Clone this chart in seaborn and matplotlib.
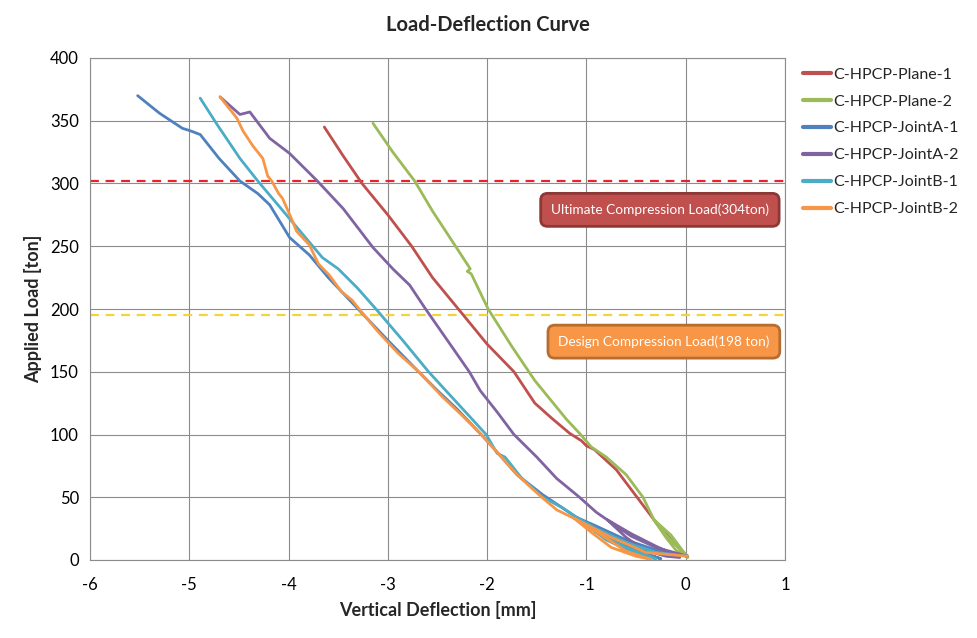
import matplotlib
matplotlib.use("Agg")
import matplotlib.pyplot as plt
import seaborn as sns
import pandas as pd

sns.set_theme(style="white")
plt.rcParams['font.family'] = ['Lato', 'DejaVu Sans']
plt.rcParams['axes.unicode_minus'] = False

# ---------------- data ----------------
series_names = ["C-HPCP-Plane-1", "C-HPCP-Plane-2", "C-HPCP-JointA-1",
                "C-HPCP-JointA-2", "C-HPCP-JointB-1", "C-HPCP-JointB-2"]

plane1_x = [0.02, -0.1, -0.3, -0.49, -0.7, -0.92, -1.0, -1.05, -1.17, -1.35, -1.52,
            -1.73, -2.0, -2.29, -2.55, -2.76, -3.0, -3.26, -3.45, -3.64]
plane1_y = [3, 12, 30, 50, 72, 88, 91, 95, 101, 113, 125,
            150, 172, 200, 225, 250, 275, 300, 322, 345]

plane2_x = [0.02, -0.1, -0.2, -0.32, -0.2, -0.1, 0.02, -0.15, -0.32, -0.43, -0.6,
            -0.8, -0.95, -1.07, -1.2, -1.52, -1.75, -1.99, -2.16, -2.2, -2.17,
            -2.31, -2.55, -2.73, -2.95, -3.15]
plane2_y = [3, 12, 20, 32, 18, 8, 2, 20, 32, 50, 68,
            82, 90, 101, 112, 143, 170, 200, 228, 230, 232,
            249, 278, 302, 325, 348]

jointA1_x = [0.02, -0.3, -0.6, -0.9, -1.1, -0.8, -0.5, -0.25, -0.55, -0.85, -1.1,
             -1.25, -1.44, -1.7, -1.9, -2.06, -2.3, -2.5, -2.69, -3.0, -3.3,
             -3.6, -3.79, -3.99, -4.19, -4.31, -4.49, -4.7, -4.84, -4.89, -4.99,
             -5.07, -5.3, -5.52]
jointA1_y = [3, 8, 16, 27, 34, 18, 7, 1, 9, 22, 34,
             42, 52, 68, 86, 100, 120, 135, 150, 175, 200,
             225, 243, 257, 283, 292, 302, 320, 334, 339, 342,
             344, 356, 370]

jointA2_x = [0.02, -0.3, -0.55, -0.79, -0.6, -0.42, -0.2, -0.06, -0.3, -0.55, -0.79,
             -0.9, -1.07, -1.3, -1.5, -1.73, -1.9, -2.07, -2.18, -2.4, -2.62,
             -2.78, -2.95, -3.15, -3.45, -3.71, -3.99, -4.19, -4.39, -4.49, -4.69]
jointA2_y = [3, 10, 19, 32, 18, 8, 3, 2, 11, 21, 32,
             38, 50, 65, 82, 100, 118, 135, 150, 175, 200,
             219, 232, 249, 280, 302, 324, 336, 357, 355, 369]

jointB1_x = [0.02, -0.3, -0.6, -0.9, -1.08, -0.8, -0.5, -0.3, -0.6, -0.9, -1.08,
             -1.25, -1.44, -1.65, -1.78, -1.82, -1.9, -2.01, -2.3, -2.59, -2.85,
             -3.12, -3.31, -3.5, -3.66, -3.99, -4.31, -4.49, -4.72, -4.89]
jointB1_y = [3, 6, 14, 25, 33, 16, 5, 1, 10, 22, 33,
             42, 50, 65, 78, 82, 85, 100, 125, 150, 175,
             200, 217, 232, 241, 272, 302, 320, 347, 368]

jointB2_x = [0.02, -0.4, -0.75, -1.12, -0.95, -0.75, -0.5, -0.35, -0.6, -0.85, -1.12,
             -1.3, -1.45, -1.7, -1.9, -2.06, -2.25, -2.45, -2.69, -2.9, -3.1,
             -3.3, -3.36, -3.47, -3.59, -3.7, -3.79, -3.92, -3.96, -4.06, -4.1,
             -4.17, -4.21, -4.26, -4.36, -4.46, -4.52, -4.69]
jointB2_y = [3, 6, 18, 33, 22, 10, 3, 0.5, 7, 20, 33,
             40, 50, 68, 86, 100, 115, 130, 150, 165, 182,
             201, 207, 214, 227, 236, 251, 262, 270, 288, 292,
             302, 306, 320, 330, 342, 352, 369]

series_x = [plane1_x, plane2_x, jointA1_x, jointA2_x, jointB1_x, jointB2_x]
series_y = [plane1_y, plane2_y, jointA1_y, jointA2_y, jointB1_y, jointB2_y]
series_colors = ["#C0504D", "#9BBB59", "#4F81BD", "#8064A2", "#4BACC6", "#F79646"]

ultimate_load = 302
design_load = 195
ultimate_text = "Ultimate Compression Load(304ton)"
design_text = "Design Compression Load(198 ton)"

x_ticks = [-6, -5, -4, -3, -2, -1, 0, 1]
y_ticks = [0, 50, 100, 150, 200, 250, 300, 350, 400]

# ---------------- figure ----------------
fig = plt.figure(figsize=(9.77, 6.38), dpi=100)
ax = fig.add_axes([90 / 977, 78 / 638, 695 / 977, 502 / 638])

for name, xs, ys, c in zip(series_names, series_x, series_y, series_colors):
    df = pd.DataFrame({"x": xs, "y": ys})
    sns.lineplot(data=df, x="x", y="y", sort=False, estimator=None, ax=ax,
                 color=c, linewidth=2.0, label=name, zorder=3)

ax.axhline(ultimate_load, color="#E8232A", linestyle=(0, (4, 3)), linewidth=1.6, zorder=2)
ax.axhline(design_load, color="#F5D33B", linestyle=(0, (4, 3)), linewidth=1.6, zorder=2)

ax.set_xlim(-6, 1)
ax.set_ylim(0, 400)
ax.set_xticks(x_ticks)
ax.set_yticks(y_ticks)
ax.grid(True, color="#8C8C8C", linewidth=0.8)
ax.set_axisbelow(True)
for s in ax.spines.values():
    s.set_color("#8C8C8C")
    s.set_linewidth(0.8)
ax.tick_params(axis="both", length=0, labelsize=12, colors="black", pad=8)
ax.tick_params(axis="x", pad=12)

ax.set_xlabel("Vertical Deflection [mm]", fontsize=13, fontweight="bold", labelpad=6)
ax.set_ylabel("Applied Load [ton]", fontsize=13, fontweight="bold", labelpad=6)
fig.text(488 / 977, 1 - 25 / 638, "Load-Deflection Curve", ha="center", va="center",
         fontsize=14.5, fontweight="bold")

ax.text(-0.26, 279, ultimate_text, ha="center", va="center", fontsize=9.8, color="white",
        zorder=5,
        bbox=dict(boxstyle="round,pad=0.75,rounding_size=0.5", facecolor="#C0504D",
                  edgecolor="#8C3836", linewidth=2))
ax.text(-0.22, 174, design_text, ha="center", va="center", fontsize=9.8, color="white",
        zorder=5,
        bbox=dict(boxstyle="round,pad=0.75,rounding_size=0.5", facecolor="#F79646",
                  edgecolor="#B66D31", linewidth=2))

leg = ax.legend(loc="upper left", bbox_to_anchor=(797 / 977, 1 - 61 / 638),
                bbox_transform=fig.transFigure, frameon=False, fontsize=11.5,
                handlelength=1.7, handletextpad=0.2, labelspacing=0.8,
                borderaxespad=0)
for h in leg.get_lines():
    h.set_linewidth(3)

fig.savefig("out.png", dpi=100)
